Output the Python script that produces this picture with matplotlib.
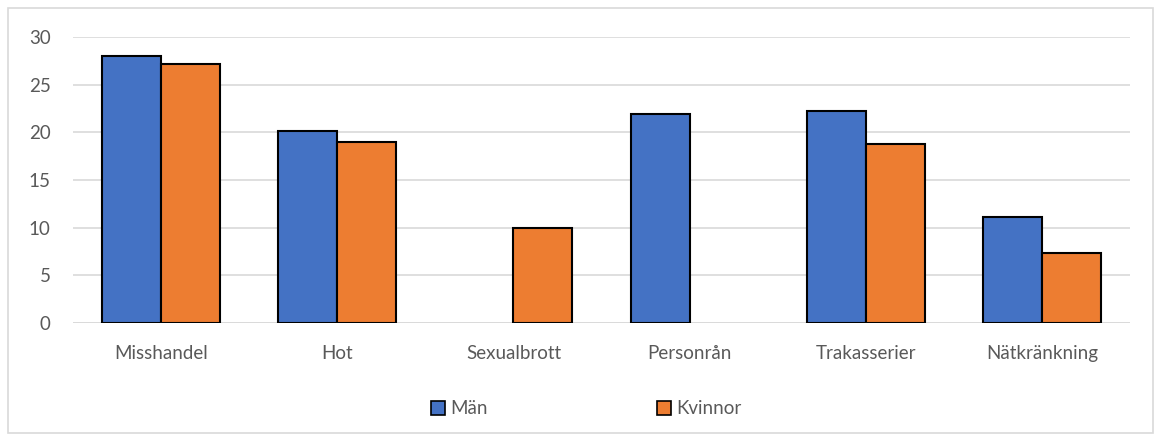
# Clustered bar chart: Män vs Kvinnor per brottstyp
import matplotlib.pyplot as plt
import matplotlib.patches as mpatches
import numpy as np

categories = ["Misshandel", "Hot", "Sexualbrott", "Personrån", "Trakasserier", "Nätkränkning"]
man = [28.0, 20.1, np.nan, 21.9, 22.2, 11.1]
kvinnor = [27.2, 19.0, 10.0, np.nan, 18.75, 7.35]
yticks = [0, 5, 10, 15, 20, 25, 30]

blue = "#4472C4"
orange = "#ED7D31"
text_color = "#595959"
grid_color = "#D9D9D9"

plt.rcParams['font.family'] = ['Lato', 'DejaVu Sans']

fig = plt.figure(figsize=(11.61, 4.41), dpi=100)
ax = fig.add_axes([0.0629, 0.2676, 0.9104, 0.6485])

x = np.arange(len(categories))
w = 0.335
ax.bar(x - w / 2, man, w, color=blue, edgecolor='black', linewidth=1.5, zorder=3)
ax.bar(x + w / 2, kvinnor, w, color=orange, edgecolor='black', linewidth=1.5, zorder=3)

ax.set_xlim(-0.5, len(categories) - 0.5)
ax.set_ylim(0, 30)
ax.set_yticks(yticks)
ax.set_xticks(x)
ax.set_xticklabels(categories)
ax.yaxis.grid(True, color=grid_color, linewidth=1.2, zorder=0)
ax.tick_params(axis='both', length=0, labelsize=13.5, colors=text_color)
ax.tick_params(axis='x', pad=16)
ax.tick_params(axis='y', pad=16)
for s in ax.spines.values():
    s.set_visible(False)
ax.axhline(0, color=grid_color, linewidth=1.2, zorder=2)

# outer chart border
fig.patches.append(mpatches.Rectangle((8 / 1161, 8 / 441), 1145 / 1161, 425 / 441,
                                      transform=fig.transFigure, fill=False,
                                      edgecolor=grid_color, linewidth=1.2))

handles = [
    mpatches.Patch(facecolor=blue, edgecolor='black', linewidth=1.2, label="Män"),
    mpatches.Patch(facecolor=orange, edgecolor='black', linewidth=1.2, label="Kvinnor"),
]
leg = fig.legend(handles=handles, loc='center', bbox_to_anchor=(0.5 + 6 / 1161, 1 - 409 / 441),
                 ncol=2, frameon=False, fontsize=13.5, handlelength=0.75, handleheight=0.75,
                 handletextpad=0.3, columnspacing=9.0)
for t in leg.get_texts():
    t.set_color(text_color)

plt.savefig("out.png", dpi=100)
